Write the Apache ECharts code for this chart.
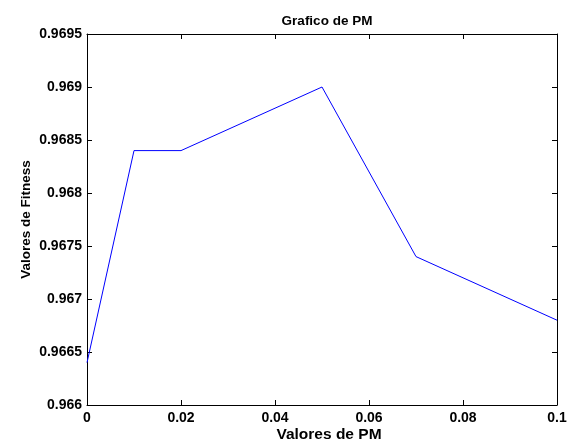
<!DOCTYPE html>
<html>
<head>
<meta charset="utf-8">
<script src="https://cdn.jsdelivr.net/npm/echarts@6/dist/echarts.min.js"></script>
<style>
  html, body { margin: 0; padding: 0; background: #fff; }
  #chart { width: 571px; height: 441px; }
</style>
</head>
<body>
<div id="chart"></div>
<script>
const pmValues = [0, 0.01, 0.02, 0.05, 0.07, 0.1];
const fitnessValues = [0.9664, 0.9684, 0.9684, 0.969, 0.9674, 0.9668];
const xTicks = [0, 0.02, 0.04, 0.06, 0.08, 0.1];
const yTicks = [0.966, 0.9665, 0.967, 0.9675, 0.968, 0.9685, 0.969, 0.9695];

const font = "Liberation Sans";
const tickStyle = { color: "#000", fontFamily: font, fontSize: 14, fontWeight: "bold" };

const chart = echarts.init(document.getElementById("chart"));

const baseX = {
  type: "value",
  min: 0,
  max: 0.1,
  interval: 0.02,
  axisLine: { show: true, onZero: false, lineStyle: { color: "#000", width: 1 } },
  axisTick: { show: true, inside: true, length: 5, lineStyle: { color: "#000" } },
  splitLine: { show: false },
};
const baseY = {
  type: "value",
  min: 0.966,
  max: 0.9695,
  interval: 0.0005,
  axisLine: { show: true, onZero: false, lineStyle: { color: "#000", width: 1 } },
  axisTick: { show: true, inside: true, length: 5, lineStyle: { color: "#000" } },
  splitLine: { show: false },
};

const options = {
  animation: false,
  backgroundColor: "#fff",
  title: {
    text: "Grafico de PM",
    left: 322,
    top: 9,
    textAlign: "center",
    textStyle: { color: "#000", fontFamily: font, fontSize: 13.5, fontWeight: "bold" },
  },
  grid: { left: 87, right: 14, top: 34, bottom: 36, containLabel: false, outerBoundsMode: "none" },
  xAxis: [
    {
      ...baseX,
      position: "bottom",
      name: "Valores de PM",
      nameLocation: "middle",
      nameGap: 22,
      nameMoveOverlap: false,
      nameTextStyle: { ...tickStyle, fontSize: 15.5, padding: [0, 0, 0, 14] },
      axisLabel: {
        ...tickStyle,
        margin: 6,
        formatter: (v) => xTicks.includes(+v.toFixed(2)) ? String(+v.toFixed(2)) : "",
      },
    },
    { ...baseX, position: "top", axisLabel: { show: false } },
  ],
  yAxis: [
    {
      ...baseY,
      position: "left",
      name: "Valores de Fitness",
      nameLocation: "middle",
      nameGap: 54,
      nameMoveOverlap: false,
      nameTextStyle: { ...tickStyle, fontSize: 13.5 },
      axisLabel: {
        ...tickStyle,
        margin: 5,
        formatter: (v) => yTicks.includes(+v.toFixed(4)) ? String(+v.toFixed(4)) : "",
      },
    },
    { ...baseY, position: "right", axisLabel: { show: false } },
  ],
  series: [
    {
      type: "line",
      data: pmValues.map((x, i) => [x, fitnessValues[i]]),
      showSymbol: false,
      lineStyle: { color: "#0000ff", width: 1 },
      itemStyle: { color: "#0000ff" },
    },
  ],
};

chart.setOption(options);
</script>
</body>
</html>
